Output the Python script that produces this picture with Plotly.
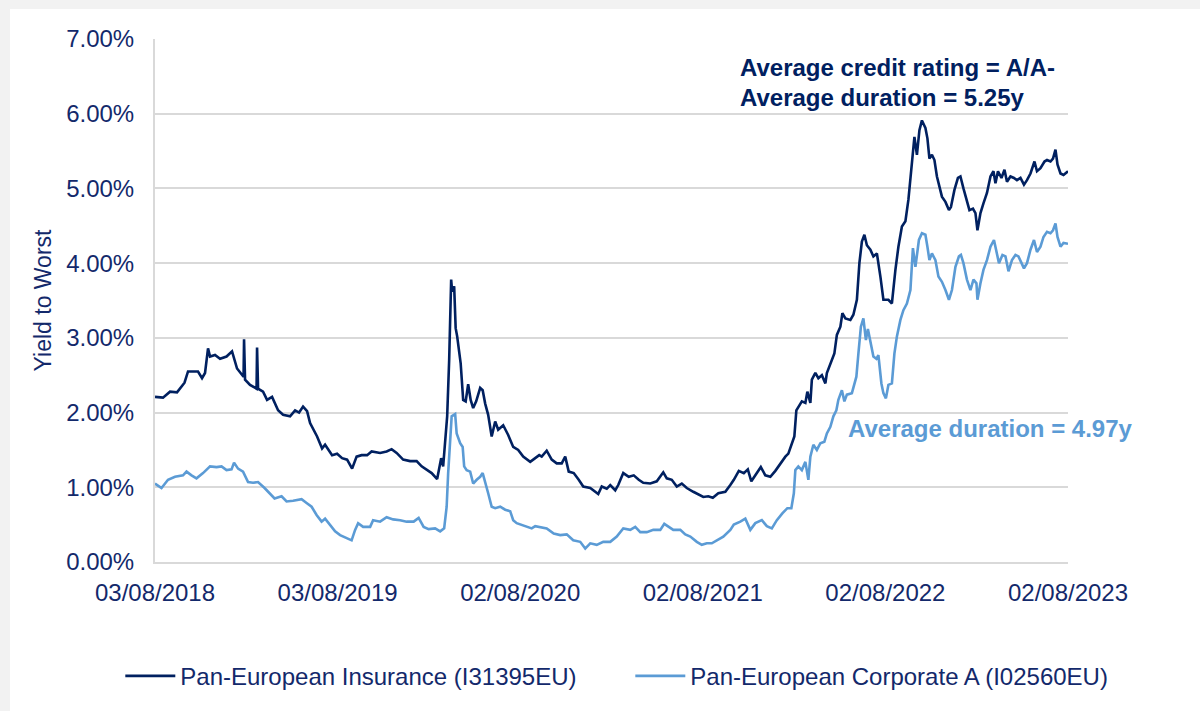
import plotly.graph_objects as go

# ---------------- data (yield to worst, %) ----------------
ins_dates = [
    "2018-08-03", "2018-08-19", "2018-09-02", "2018-09-16", "2018-10-01", "2018-10-08", "2018-10-18", "2018-10-28",
    "2018-11-05", "2018-11-11", "2018-11-17", "2018-11-21", "2018-12-01", "2018-12-11", "2018-12-24", "2019-01-04",
    "2019-01-14", "2019-01-24", "2019-01-27", "2019-01-28", "2019-01-30", "2019-02-09", "2019-02-19", "2019-02-22",
    "2019-02-23", "2019-02-25", "2019-03-07", "2019-03-15", "2019-03-25", "2019-04-06", "2019-04-16", "2019-04-30",
    "2019-05-10", "2019-05-18", "2019-05-26", "2019-06-03", "2019-06-09", "2019-06-23", "2019-07-03", "2019-07-09",
    "2019-07-23", "2019-08-02", "2019-08-12", "2019-08-22", "2019-09-01", "2019-09-10", "2019-09-20", "2019-10-01",
    "2019-10-10", "2019-10-27", "2019-11-09", "2019-11-19", "2019-11-29", "2019-12-12", "2019-12-26", "2020-01-08",
    "2020-01-18", "2020-01-28", "2020-02-07", "2020-02-18", "2020-02-26", "2020-03-01", "2020-03-07", "2020-03-09",
    "2020-03-13", "2020-03-17", "2020-03-19", "2020-03-23", "2020-03-26", "2020-03-29", "2020-04-05", "2020-04-10",
    "2020-04-15", "2020-04-20", "2020-04-25", "2020-04-30", "2020-05-06", "2020-05-14", "2020-05-19", "2020-05-24",
    "2020-05-30", "2020-06-06", "2020-06-13", "2020-06-19", "2020-06-29", "2020-07-09", "2020-07-19", "2020-07-29",
    "2020-08-08", "2020-08-22", "2020-09-01", "2020-09-09", "2020-09-14", "2020-09-24", "2020-10-04", "2020-10-14",
    "2020-10-24", "2020-10-31", "2020-11-07", "2020-11-17", "2020-11-27", "2020-12-06", "2020-12-20", "2021-01-05",
    "2021-01-12", "2021-01-22", "2021-01-29", "2021-02-08", "2021-02-14", "2021-02-24", "2021-03-07", "2021-03-17",
    "2021-03-27", "2021-04-05", "2021-04-19", "2021-05-02", "2021-05-15", "2021-05-22", "2021-06-01", "2021-06-11",
    "2021-06-21", "2021-07-01", "2021-07-14", "2021-07-24", "2021-08-03", "2021-08-13", "2021-08-22", "2021-09-02",
    "2021-09-16", "2021-09-26", "2021-10-03", "2021-10-13", "2021-10-23", "2021-10-31", "2021-11-07", "2021-11-15",
    "2021-11-26", "2021-12-05", "2021-12-15", "2021-12-25", "2022-01-04", "2022-01-14", "2022-01-20", "2022-01-27",
    "2022-02-01", "2022-02-05", "2022-02-09", "2022-02-16", "2022-02-23", "2022-02-27", "2022-03-05", "2022-03-08",
    "2022-03-15", "2022-03-21", "2022-03-28", "2022-04-04", "2022-04-07", "2022-04-14", "2022-04-22", "2022-04-27",
    "2022-05-04", "2022-05-08", "2022-05-14", "2022-05-24", "2022-05-30", "2022-06-06", "2022-06-11", "2022-06-16",
    "2022-06-21", "2022-06-26", "2022-07-03", "2022-07-09", "2022-07-16", "2022-07-23", "2022-07-29", "2022-08-08",
    "2022-08-15", "2022-08-22", "2022-08-28", "2022-09-04", "2022-09-11", "2022-09-17", "2022-09-24", "2022-09-29",
    "2022-10-04", "2022-10-09", "2022-10-14", "2022-10-21", "2022-10-25", "2022-10-29", "2022-11-03", "2022-11-08",
    "2022-11-13", "2022-11-18", "2022-11-23", "2022-11-30", "2022-12-07", "2022-12-11", "2022-12-18", "2022-12-25",
    "2022-12-30", "2023-01-05", "2023-01-12", "2023-01-17", "2023-01-24", "2023-01-29", "2023-02-02", "2023-02-08",
    "2023-02-14", "2023-02-21", "2023-02-28", "2023-03-06", "2023-03-10", "2023-03-15", "2023-03-22", "2023-03-28",
    "2023-04-02", "2023-04-09", "2023-04-16", "2023-04-22", "2023-04-29", "2023-05-06", "2023-05-12", "2023-05-19",
    "2023-05-27", "2023-06-01", "2023-06-08", "2023-06-16", "2023-06-21", "2023-06-28", "2023-07-03", "2023-07-08",
    "2023-07-12", "2023-07-18", "2023-07-24", "2023-08-02",
]
ins_values = [
    2.21, 2.20, 2.28, 2.27, 2.40, 2.55, 2.55, 2.55,
    2.46, 2.53, 2.86, 2.75, 2.77, 2.72, 2.75, 2.82,
    2.59, 2.50, 2.48, 2.98, 2.44, 2.37, 2.33, 2.32,
    2.87, 2.32, 2.28, 2.17, 2.21, 2.03, 1.97, 1.95,
    2.03, 2.00, 2.08, 2.02, 1.86, 1.68, 1.52, 1.57,
    1.43, 1.45, 1.39, 1.37, 1.25, 1.41, 1.43, 1.43,
    1.48, 1.46, 1.48, 1.51, 1.46, 1.37, 1.35, 1.35,
    1.28, 1.23, 1.19, 1.11, 1.39, 1.28, 1.72, 1.95,
    2.70, 3.78, 3.62, 3.69, 3.13, 3.02, 2.66, 2.17,
    2.15, 2.38, 2.17, 2.06, 2.15, 2.33, 2.30, 2.12,
    1.97, 1.68, 1.88, 1.77, 1.83, 1.70, 1.54, 1.50,
    1.41, 1.34, 1.39, 1.43, 1.41, 1.49, 1.37, 1.32,
    1.32, 1.41, 1.21, 1.19, 1.10, 1.01, 0.99, 0.91,
    1.01, 0.98, 1.03, 0.96, 1.03, 1.19, 1.14, 1.16,
    1.10, 1.06, 1.05, 1.08, 1.20, 1.12, 1.10, 1.01,
    1.05, 0.99, 0.94, 0.90, 0.87, 0.88, 0.86, 0.92,
    0.94, 1.03, 1.10, 1.22, 1.19, 1.24, 1.08, 1.16,
    1.27, 1.16, 1.14, 1.22, 1.32, 1.41, 1.45, 1.59,
    1.68, 2.03, 2.08, 2.15, 2.13, 2.28, 2.13, 2.44,
    2.53, 2.46, 2.50, 2.39, 2.53, 2.66, 2.79, 3.04,
    3.15, 3.33, 3.26, 3.24, 3.31, 3.51, 4.00, 4.29,
    4.38, 4.24, 4.18, 4.09, 4.13, 3.82, 3.51, 3.51,
    3.46, 3.91, 4.22, 4.49, 4.56, 4.85, 5.34, 5.69,
    5.45, 5.78, 5.91, 5.81, 5.67, 5.40, 5.45, 5.38,
    5.16, 5.02, 4.89, 4.82, 4.71, 4.75, 4.98, 5.14,
    5.16, 5.00, 4.85, 4.71, 4.73, 4.67, 4.44, 4.67,
    4.80, 4.94, 5.16, 5.23, 5.07, 5.23, 5.14, 5.25,
    5.09, 5.16, 5.14, 5.11, 5.14, 5.05, 5.11, 5.20,
    5.36, 5.23, 5.27, 5.36, 5.38, 5.36, 5.40, 5.52,
    5.32, 5.20, 5.18, 5.23,
]

corp_dates = [
    "2018-08-03", "2018-08-16", "2018-08-29", "2018-09-12", "2018-09-28", "2018-10-05", "2018-10-15", "2018-10-25",
    "2018-11-07", "2018-11-21", "2018-12-04", "2018-12-14", "2018-12-24", "2019-01-03", "2019-01-08", "2019-01-16",
    "2019-01-26", "2019-02-05", "2019-02-15", "2019-02-25", "2019-03-10", "2019-03-20", "2019-03-30", "2019-04-13",
    "2019-04-23", "2019-05-06", "2019-05-23", "2019-06-02", "2019-06-12", "2019-06-22", "2019-07-02", "2019-07-09",
    "2019-07-19", "2019-07-29", "2019-08-08", "2019-08-21", "2019-08-31", "2019-09-07", "2019-09-13", "2019-09-23",
    "2019-10-07", "2019-10-13", "2019-10-27", "2019-11-09", "2019-11-22", "2019-12-06", "2019-12-19", "2020-01-02",
    "2020-01-12", "2020-01-22", "2020-02-01", "2020-02-14", "2020-02-24", "2020-03-03", "2020-03-08", "2020-03-11",
    "2020-03-15", "2020-03-18", "2020-03-25", "2020-03-28", "2020-04-04", "2020-04-09", "2020-04-12", "2020-04-17",
    "2020-04-24", "2020-04-30", "2020-05-07", "2020-05-14", "2020-05-19", "2020-05-24", "2020-05-30", "2020-06-06",
    "2020-06-13", "2020-06-23", "2020-07-03", "2020-07-13", "2020-07-19", "2020-07-26", "2020-08-05", "2020-08-15",
    "2020-08-25", "2020-09-01", "2020-09-11", "2020-09-24", "2020-10-08", "2020-10-21", "2020-11-03", "2020-11-16",
    "2020-11-30", "2020-12-10", "2020-12-20", "2021-01-02", "2021-01-15", "2021-01-29", "2021-02-11", "2021-02-24",
    "2021-03-10", "2021-03-20", "2021-03-30", "2021-04-12", "2021-04-25", "2021-05-09", "2021-05-17", "2021-05-25",
    "2021-06-04", "2021-06-18", "2021-06-28", "2021-07-08", "2021-07-21", "2021-07-31", "2021-08-10", "2021-08-20",
    "2021-08-30", "2021-09-12", "2021-09-26", "2021-10-03", "2021-10-16", "2021-10-26", "2021-11-05", "2021-11-15",
    "2021-11-28", "2021-12-08", "2021-12-18", "2021-12-28", "2022-01-08", "2022-01-18", "2022-01-26", "2022-01-31",
    "2022-02-03", "2022-02-09", "2022-02-16", "2022-02-23", "2022-03-01", "2022-03-05", "2022-03-11", "2022-03-18",
    "2022-03-25", "2022-04-02", "2022-04-07", "2022-04-14", "2022-04-20", "2022-04-26", "2022-04-30", "2022-05-07",
    "2022-05-12", "2022-05-17", "2022-05-27", "2022-06-05", "2022-06-09", "2022-06-14", "2022-06-19", "2022-06-24",
    "2022-06-28", "2022-07-03", "2022-07-09", "2022-07-15", "2022-07-19", "2022-07-25", "2022-07-29", "2022-08-03",
    "2022-08-08", "2022-08-15", "2022-08-20", "2022-08-25", "2022-09-01", "2022-09-07", "2022-09-14", "2022-09-21",
    "2022-09-26", "2022-10-01", "2022-10-08", "2022-10-14", "2022-10-21", "2022-10-25", "2022-10-29", "2022-11-03",
    "2022-11-10", "2022-11-16", "2022-11-23", "2022-11-30", "2022-12-07", "2022-12-13", "2022-12-20", "2022-12-27",
    "2022-12-31", "2023-01-05", "2023-01-12", "2023-01-19", "2023-01-25", "2023-01-31", "2023-02-02", "2023-02-08",
    "2023-02-14", "2023-02-21", "2023-02-28", "2023-03-07", "2023-03-12", "2023-03-17", "2023-03-24", "2023-03-30",
    "2023-04-05", "2023-04-12", "2023-04-19", "2023-04-25", "2023-05-06", "2023-05-12", "2023-05-19", "2023-05-26",
    "2023-06-01", "2023-06-08", "2023-06-14", "2023-06-21", "2023-06-28", "2023-07-03", "2023-07-08", "2023-07-12",
    "2023-07-18", "2023-07-24", "2023-08-02",
]
corp_values = [
    1.05, 0.99, 1.10, 1.14, 1.16, 1.21, 1.16, 1.12,
    1.19, 1.28, 1.27, 1.28, 1.23, 1.24, 1.33, 1.25,
    1.21, 1.07, 1.06, 1.07, 0.99, 0.92, 0.85, 0.88,
    0.81, 0.82, 0.84, 0.79, 0.74, 0.63, 0.54, 0.58,
    0.50, 0.41, 0.36, 0.32, 0.29, 0.43, 0.52, 0.47,
    0.47, 0.56, 0.54, 0.60, 0.57, 0.56, 0.54, 0.54,
    0.59, 0.47, 0.44, 0.45, 0.41, 0.45, 0.74, 1.19,
    1.63, 1.95, 1.98, 1.72, 1.59, 1.54, 1.28, 1.23,
    1.21, 1.05, 1.10, 1.14, 1.19, 1.05, 0.92, 0.74,
    0.72, 0.74, 0.70, 0.68, 0.56, 0.52, 0.50, 0.47,
    0.45, 0.48, 0.47, 0.45, 0.38, 0.36, 0.37, 0.29,
    0.27, 0.18, 0.25, 0.23, 0.27, 0.27, 0.34, 0.45,
    0.43, 0.47, 0.40, 0.40, 0.43, 0.43, 0.51, 0.47,
    0.43, 0.43, 0.37, 0.34, 0.27, 0.23, 0.25, 0.25,
    0.29, 0.34, 0.43, 0.50, 0.54, 0.58, 0.43, 0.52,
    0.56, 0.48, 0.45, 0.56, 0.65, 0.72, 0.72, 0.92,
    1.23, 1.28, 1.23, 1.34, 1.10, 1.41, 1.57, 1.50,
    1.59, 1.61, 1.72, 1.81, 1.95, 2.03, 2.17, 2.30,
    2.15, 2.24, 2.26, 2.48, 2.79, 3.15, 3.26, 2.97,
    3.12, 2.97, 2.75, 2.72, 2.77, 2.39, 2.26, 2.19,
    2.37, 2.39, 2.79, 3.02, 3.24, 3.37, 3.46, 3.64,
    4.20, 3.95, 4.31, 4.40, 4.38, 4.22, 4.04, 4.13,
    4.04, 3.82, 3.75, 3.64, 3.51, 3.64, 3.95, 4.09,
    4.11, 4.00, 3.78, 3.64, 3.78, 3.73, 3.51, 3.73,
    3.91, 4.04, 4.22, 4.31, 4.13, 4.00, 4.11, 4.09,
    3.89, 4.04, 4.11, 4.09, 3.93, 4.00, 4.18, 4.31,
    4.15, 4.22, 4.35, 4.42, 4.40, 4.44, 4.53, 4.35,
    4.22, 4.27, 4.26,
]

series_names = ["Pan-European Insurance (I31395EU)", "Pan-European Corporate A (I02560EU)"]
x_tickvals = ["2018-08-03", "2019-08-03", "2020-08-02", "2021-08-02", "2022-08-02", "2023-08-02"]
x_ticktext = ["03/08/2018", "03/08/2019", "02/08/2020", "02/08/2021", "02/08/2022", "02/08/2023"]
y_tickvals = [0, 1, 2, 3, 4, 5, 6, 7]
y_ticktext = ["0.00%", "1.00%", "2.00%", "3.00%", "4.00%", "5.00%", "6.00%", "7.00%"]

# ---------------- styling ----------------
NAVY = "#002060"
LIGHT = "#5b9bd5"
TEXT = "#13296b"
GRID = "#d9d9d9"
FONT = "Liberation Sans, Arial, sans-serif"

fig = go.Figure()
fig.add_trace(go.Scatter(x=ins_dates, y=ins_values, mode="lines", name=series_names[0],
                         line=dict(color=NAVY, width=2.6)))
fig.add_trace(go.Scatter(x=corp_dates, y=corp_values, mode="lines", name=series_names[1],
                         line=dict(color=LIGHT, width=2.6)))

# white panel on light grey page
fig.add_shape(type="rect", xref="paper", yref="paper", x0=-0.1588, x1=1.16, y0=-0.35, y1=1.0574,
              fillcolor="white", line=dict(width=0), layer="below")

fig.add_annotation(xref="paper", yref="paper", x=0.6386, y=0.9446, xanchor="left", yanchor="middle",
                   text="<b>Average credit rating = A/A-</b>", showarrow=False,
                   font=dict(family=FONT, size=24, color=NAVY))
fig.add_annotation(xref="paper", yref="paper", x=0.6386, y=0.889, xanchor="left", yanchor="middle",
                   text="<b>Average duration = 5.25y</b>", showarrow=False,
                   font=dict(family=FONT, size=24, color=NAVY))
fig.add_annotation(xref="paper", yref="paper", x=0.7568, y=0.2562, xanchor="left", yanchor="middle",
                   text="<b>Average duration = 4.97y</b>", showarrow=False,
                   font=dict(family=FONT, size=24, color=LIGHT))

fig.update_layout(
    width=1200, height=711,
    margin=dict(l=155, r=132, t=39, b=149),
    paper_bgcolor="#f2f2f2",
    plot_bgcolor="white",
    font=dict(family=FONT, size=24, color=TEXT),
    showlegend=True,
    legend=dict(orientation="h", xref="paper", yref="paper", x=-0.038, xanchor="left",
                y=-0.2185, yanchor="middle",
                font=dict(family=FONT, size=24, color=TEXT), bgcolor="rgba(0,0,0,0)",
                itemwidth=50, tracegroupgap=0, entrywidth=445, entrywidthmode="pixels"),
    xaxis=dict(type="date", range=["2018-08-03", "2023-08-02"], tickmode="array",
               tickvals=x_tickvals, ticktext=x_ticktext, showgrid=False, zeroline=False,
               showline=True, linecolor=GRID, linewidth=2, ticks="", ticklabelstandoff=8,
               tickfont=dict(family=FONT, size=24, color=TEXT)),
    yaxis=dict(range=[0, 7], tickmode="array", tickvals=y_tickvals, ticktext=y_ticktext,
               showgrid=True, gridcolor=GRID, gridwidth=2, zeroline=False,
               showline=True, linecolor=GRID, linewidth=2, ticks="", ticklabelstandoff=14,
               tickfont=dict(family=FONT, size=24, color=TEXT),
               title=dict(text="Yield to Worst", standoff=8,
                          font=dict(family=FONT, size=23, color=TEXT))),
)

fig.write_html("out.html")
